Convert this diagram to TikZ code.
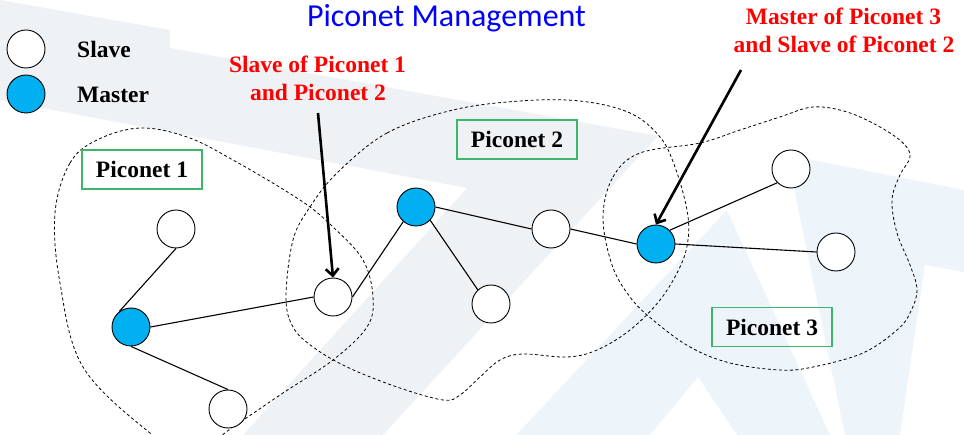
\documentclass[tikz,border=0pt]{standalone}
\usepackage{fontspec}
\setmainfont{Liberation Serif}
\newfontfamily\titlefont{Carlito}
\usetikzlibrary{arrows.meta}
\definecolor{masterblue}{HTML}{00B0F0}
\definecolor{boxgreen}{HTML}{3DB66B}
\definecolor{wmgrey}{HTML}{EFF2F5}
\definecolor{wmblue}{HTML}{EEF5FA}
\definecolor{titleblue}{HTML}{0000FF}
\definecolor{labelred}{HTML}{FF0000}
\begin{document}
\begin{tikzpicture}[x=1pt,y=-1pt,
  dev/.style={circle,draw=black,line width=0.9pt,minimum size=38pt,inner sep=0pt},
  slave/.style={dev,fill=white},
  master/.style={dev,fill=masterblue},
  link/.style={line width=1.1pt},
  zone/.style={line width=0.8pt,dash pattern=on 3pt off 2.5pt},
  callout/.style={line width=2.6pt,-{Straight Barb[length=7pt,width=13pt,line width=2.6pt]}},
  bigbold/.style={font=\fontsize{23.5}{28}\selectfont\bfseries},
  netbox/.style={bigbold,draw=boxgreen,line width=1.1pt,minimum width=120pt,minimum height=39pt,inner sep=0pt},
  legtext/.style={bigbold,anchor=base west,inner sep=0pt},
  redtext/.style={bigbold,text=labelred,anchor=base,inner sep=0pt}
]
\useasboundingbox (0,0) rectangle (964,435);
\clip (0,0) rectangle (964,435);
% watermark
\fill[wmgrey] (0,0) -- (170,30) -- (170,48) -- (658,136) -- (383,435) -- (243,435) -- (467,188) -- (0,100) -- cycle;
\fill[wmblue] (727,210) -- (830,435) -- (737,435) -- (698,377) -- (650,435) -- (516,435) -- cycle;
\fill[wmblue] (787,155) -- (964,190) -- (964,272) -- (925,265) -- (900,435) -- (845,435) -- cycle;
% title
\node[anchor=base,inner sep=0pt,text=titleblue,font=\titlefont\fontsize{32}{36}\selectfont] (title) at (446.5,27) {Piconet Management};
% legend
\node[slave] (legs) at (26,49) {};
\node[master] (legm) at (26,94) {};
\node[legtext] (legst) at (77,58) {Slave};
\node[legtext] (legmt) at (77,103) {Master};
% zones
\draw[zone] plot[smooth cycle,tension=0.6] coordinates {(55,213) (70,163) (97,140) (140,128) (187,137) (233,160) (300,200) (333,227) (363,260) (373,297) (367,327) (333,360) (283,393) (233,427) (190,455) (150,433) (83,367) (60,283)};
\draw[zone] plot[smooth cycle,tension=0.6] coordinates {(337,173) (387,133) (453,110) (520,101) (580,101) (630,113) (660,137) (675,167) (687,210) (688,240) (680,267) (660,300) (630,330) (597,350) (567,357) (523,354) (500,360) (480,377) (460,395) (443,400) (397,387) (347,367) (313,347) (293,327) (286,297) (293,240) (310,207)};
\draw[zone] plot[smooth cycle,tension=0.6] coordinates {(603,217) (613,177) (640,153) (700,143) (740,130) (780,117) (813,107) (847,112) (880,127) (903,143) (910,157) (900,175) (892,200) (897,233) (910,265) (917,290) (910,313) (897,330) (863,353) (813,367) (780,370) (730,363) (690,347) (653,320) (630,297) (612,265)};
% boxes
\node[netbox] (p1) at (142,169.5) {Piconet 1};
\node[netbox] (p2) at (517,139.5) {Piconet 2};
\node[netbox] (p3) at (772,327) {Piconet 3};
% devices
\node[slave] (s1t) at (176,229) {};
\node[master] (m1) at (131,327) {};
\node[slave] (s1b) at (228,409) {};
\node[slave] (br) at (333,297) {};
\node[master] (m2) at (416,207) {};
\node[slave] (s2b) at (491,304) {};
\node[slave] (s2m) at (551,229) {};
\node[master] (m3) at (656,244) {};
\node[slave] (s3t) at (791,169) {};
\node[slave] (s3r) at (836,252) {};
% links
\draw[link] (m1.127) -- (s1t.south);
\draw[link] (m1.south) -- (s1b.north);
\draw[link] (m1.east) -- (br.west);
\draw[link] (br.east) -- (m2.229);
\draw[link] (m2.317) -- (s2b.133);
\draw[link] (m2.east) -- (s2m.west);
\draw[link] (s2m.east) -- (m3.west);
\draw[link] (m3.45) -- (s3t.225);
\draw[link] (m3.east) -- (s3r.west);
% callouts
\node[redtext] (c1a) at (317.5,73) {Slave of Piconet 1};
\node[redtext] (c1b) at (318,101) {and Piconet 2};
\node[redtext] (c2a) at (843.5,25) {Master of Piconet 3};
\node[redtext] (c2b) at (844,53) {and Slave of Piconet 2};
\coordinate (a1) at (318,113);
\coordinate (a2) at (741,70);
\draw[callout] (a1) -- (br.north);
\draw[callout] (a2) -- (m3.north);
\end{tikzpicture}
\end{document}
